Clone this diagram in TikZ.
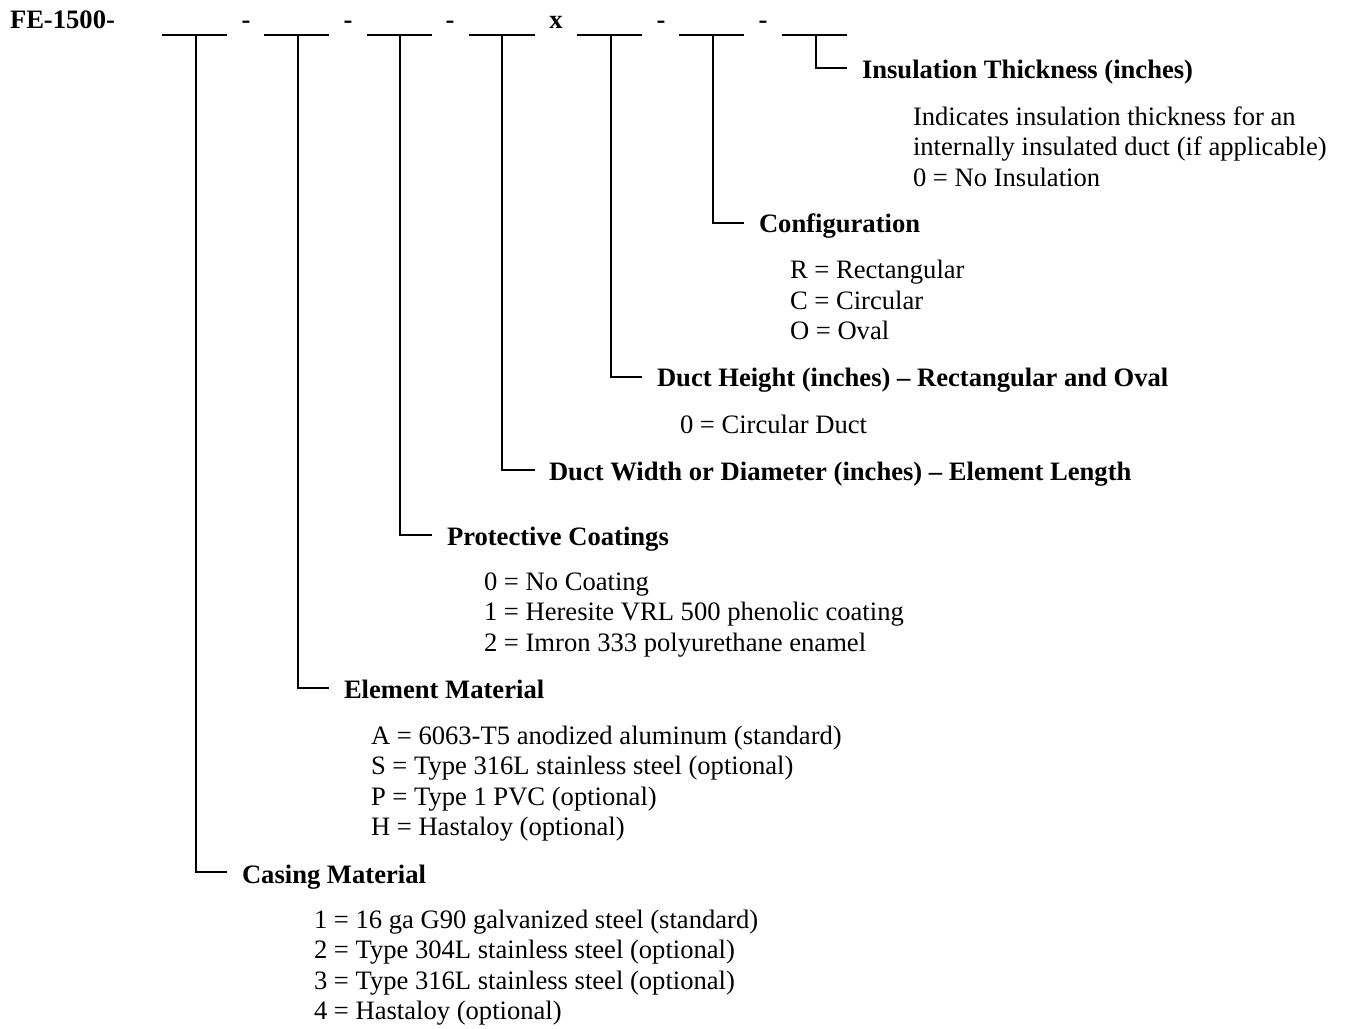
\documentclass[tikz,border=0pt]{standalone}
\usepackage{fontspec}
\setmainfont{Liberation Serif}
\begin{document}
\begin{tikzpicture}[x=1pt,y=-1pt,
  txt/.style={inner sep=0pt,outer sep=0pt,anchor=base west,font=\fontsize{26.6}{30.5}\selectfont},
  hdr/.style={txt,font=\fontsize{26.6}{30.5}\selectfont\bfseries},
  sep/.style={inner sep=0pt,outer sep=0pt,anchor=base,font=\fontsize{26.6}{30.5}\selectfont\bfseries},
  ln/.style={line width=2pt,line cap=rect}]
\useasboundingbox (0,0) rectangle (1346,1028);
% code line
\node[hdr] (code) at (10,28) {FE-1500-};
\node[sep] (d1) at (246,28) {-};
\node[sep] (d2) at (348,28) {-};
\node[sep] (d3) at (450,28) {-};
\node[sep] (dx) at (556,28) {x};
\node[sep] (d5) at (661,28) {-};
\node[sep] (d6) at (763,28) {-};
% blanks
\draw[ln] (163,35) -- (226,35);
\draw[ln] (265,35) -- (328,35);
\draw[ln] (368,35) -- (431,35);
\draw[ln] (470,35) -- (534,35);
\draw[ln] (578,35) -- (641,35);
\draw[ln] (680,35) -- (743,35);
\draw[ln] (783,35) -- (846,35);
% tops of leaders
\coordinate (t1) at (196,35);
\coordinate (t2) at (298,35);
\coordinate (t3) at (400,35);
\coordinate (t4) at (502,35);
\coordinate (t5) at (611,35);
\coordinate (t6) at (713,35);
\coordinate (t7) at (816,35);
% elbow ends
\coordinate (e1) at (226,872);
\coordinate (e2) at (328,688);
\coordinate (e3) at (431,535);
\coordinate (e4) at (534,470);
\coordinate (e5) at (641,377);
\coordinate (e6) at (743,223);
\coordinate (e7) at (846,68);
\draw[ln] (t1) |- (e1);
\draw[ln] (t2) |- (e2);
\draw[ln] (t3) |- (e3);
\draw[ln] (t4) |- (e4);
\draw[ln] (t5) |- (e5);
\draw[ln] (t6) |- (e6);
\draw[ln] (t7) |- (e7);
% Insulation
\node[hdr] (h7) at (862,78) {Insulation Thickness (inches)};
\node[txt] (h7a) at (913,125) {Indicates insulation thickness for an};
\node[txt] (h7b) at (913,155.5) {internally insulated duct (if applicable)};
\node[txt] (h7c) at (913,186) {0 = No Insulation};
% Configuration
\node[hdr] (h6) at (759,232) {Configuration};
\node[txt] (h6a) at (790,278.5) {R = Rectangular};
\node[txt] (h6b) at (790,309) {C = Circular};
\node[txt] (h6c) at (790,339.5) {O = Oval};
% Duct height
\node[hdr] (h5) at (657,386) {Duct Height (inches) – Rectangular and Oval};
\node[txt] (h5a) at (680,433) {0 = Circular Duct};
% Duct width
\node[hdr] (h4) at (549,480) {Duct Width or Diameter (inches) – Element Length};
% Protective
\node[hdr] (h3) at (447,545) {Protective Coatings};
\node[txt] (h3a) at (484,590) {0 = No Coating};
\node[txt] (h3b) at (484,620.5) {1 = Heresite VRL 500 phenolic coating};
\node[txt] (h3c) at (484,651) {2 = Imron 333 polyurethane enamel};
% Element
\node[hdr] (h2) at (344,698) {Element Material};
\node[txt] (h2a) at (371,744) {A = 6063-T5 anodized aluminum (standard)};
\node[txt] (h2b) at (371,774.5) {S = Type 316L stainless steel (optional)};
\node[txt] (h2c) at (371,805) {P = Type 1 PVC (optional)};
\node[txt] (h2d) at (371,835.5) {H = Hastaloy (optional)};
% Casing
\node[hdr] (h1) at (242,883) {Casing Material};
\node[txt] (h1a) at (314,928) {1 = 16 ga G90 galvanized steel (standard)};
\node[txt] (h1b) at (314,958.5) {2 = Type 304L stainless steel (optional)};
\node[txt] (h1c) at (314,989) {3 = Type 316L stainless steel (optional)};
\node[txt] (h1d) at (314,1019.5) {4 = Hastaloy (optional)};
\end{tikzpicture}
\end{document}
